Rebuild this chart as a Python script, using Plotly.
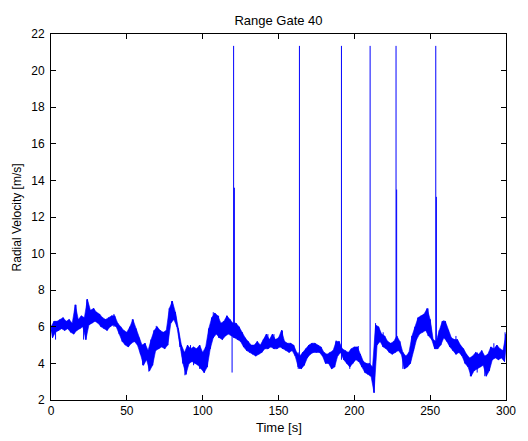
import plotly.graph_objects as go

# Radial velocity record for range gate 40, sampled on a 2 s grid.
# Each grid step holds the upper and lower edge of the noisy trace.
TIME_S = list(range(0, 301, 2))

VEL_HIGH = [
    6.0, 6.3, 6.3, 6.4, 6.5, 6.3, 6.4, 6.2, 7.2, 6.4,   # 0-18
    6.6, 6.5, 7.5, 6.9, 7.0, 6.8, 6.7, 6.5, 6.4, 6.5,   # 20-38
    6.6, 6.6, 6.2, 6.0, 5.8, 5.7, 6.0, 6.4, 5.9, 5.4,   # 40-58
    5.0, 5.1, 4.7, 5.3, 5.8, 6.0, 5.8, 5.7, 5.8, 7.0,   # 60-78
    7.4, 6.8, 5.9, 5.0, 4.6, 5.0, 4.8, 4.9, 4.8, 5.0,   # 80-98
    4.6, 4.9, 5.9, 6.5, 6.75, 6.6, 6.2, 6.3, 6.6, 6.4,  # 100-118
    6.2, 6.2, 6.0, 5.7, 5.4, 5.2, 5.0, 5.0, 5.2, 5.0,   # 120-138
    5.3, 5.6, 5.3, 5.6, 5.3, 5.4, 5.8, 5.2, 5.1, 5.1,   # 140-158
    5.0, 4.6, 4.4, 4.6, 4.8, 5.0, 5.1, 5.1, 5.0, 4.9,   # 160-178
    4.6, 4.5, 4.6, 4.7, 5.2, 5.2, 4.8, 4.7, 4.6, 4.8,   # 180-198
    4.9, 4.9, 4.5, 4.1, 4.0, 4.0, 3.8, 6.1, 6.0, 5.6,   # 200-218
    5.5, 5.2, 5.1, 5.2, 5.5, 5.2, 4.6, 4.4, 4.6, 5.5,   # 220-238
    6.0, 6.5, 6.6, 6.7, 7.0, 6.4, 5.3, 5.2, 5.8, 6.3,   # 240-258
    6.3, 5.8, 5.4, 5.3, 5.3, 5.0, 4.8, 4.5, 4.3, 4.4,   # 260-278
    4.6, 4.5, 4.7, 4.4, 4.5, 4.9, 4.8, 5.0, 4.8, 4.7,   # 280-298
    5.6,                                                 # 300
]

VEL_LOW = [
    5.4, 5.7, 5.8, 5.9, 5.8, 5.9, 5.7, 5.6, 5.8, 5.9,   # 0-18
    6.0, 5.3, 6.1, 6.2, 6.3, 6.2, 6.0, 5.9, 5.8, 6.0,   # 20-38
    6.1, 6.0, 5.6, 5.2, 5.0, 4.9, 5.1, 5.2, 5.0, 4.5,   # 40-58
    3.9, 4.2, 3.6, 3.9, 4.7, 4.8, 4.9, 4.8, 5.0, 6.2,   # 60-78
    6.4, 6.0, 4.9, 4.0, 3.4, 4.0, 4.1, 4.0, 3.9, 3.7,   # 80-98
    3.5, 3.8, 4.8, 5.4, 5.6, 5.4, 5.3, 5.5, 5.6, 5.5,   # 100-118
    5.4, 5.3, 5.2, 4.9, 4.7, 4.6, 4.5, 4.4, 4.5, 4.6,   # 120-138
    4.8, 4.8, 4.9, 4.8, 4.8, 4.9, 4.8, 4.7, 4.6, 4.7,   # 140-158
    4.4, 3.8, 3.7, 3.9, 4.3, 4.5, 4.6, 4.6, 4.6, 4.4,   # 160-178
    4.0, 4.0, 3.7, 3.8, 4.4, 4.6, 4.2, 4.0, 3.8, 4.0,   # 180-198
    4.2, 4.1, 3.8, 3.5, 3.4, 3.3, 2.4, 5.0, 5.2, 4.9,   # 200-218
    4.8, 4.6, 4.5, 4.6, 4.7, 4.5, 3.7, 3.8, 4.0, 4.7,   # 220-238
    5.3, 5.6, 5.7, 5.8, 5.5, 5.3, 4.8, 4.8, 5.0, 5.4,   # 240-258
    5.2, 4.9, 4.7, 4.5, 4.6, 4.4, 4.0, 3.8, 3.3, 3.6,   # 260-278
    3.7, 3.8, 3.9, 3.3, 3.6, 4.2, 4.3, 4.2, 4.3, 4.1,   # 280-298
    5.0,                                                 # 300
]

# Large outliers (time in s, velocity in m/s)
SPIKE_T = [119.4, 120.4, 120.9, 163.8, 191.5, 210.4, 227.5, 227.9, 253.7, 254.1]
SPIKE_V = [3.5, 21.35, 13.6, 21.35, 21.35, 21.35, 21.35, 13.5, 21.35, 13.1]

# Short single-sample excursions just outside the noise band
HAIR_T = [3, 16.5, 21.5, 23.6, 28.4, 41.5, 53.6, 60.4, 64.5, 69.4,
          79.5, 88.3, 92, 94, 98, 101, 107, 110.5, 116, 143,
          147, 152.6, 163, 185, 188, 197, 202.6, 214, 219, 232,
          248.6, 259, 267, 276.5, 281, 286, 292, 299.4]
HAIR_V = [5.3, 7.2, 5.3, 7.5, 7.0, 6.7, 6.4, 3.9, 3.55, 6.05,
          7.4, 3.35, 5.0, 3.9, 3.7, 3.5, 6.8, 6.6, 6.6, 5.6,
          5.6, 5.8, 3.7, 3.7, 5.25, 3.7, 4.95, 6.2, 5.7, 3.7,
          7.0, 6.35, 5.5, 3.3, 3.5, 3.3, 5.1, 5.7]

X_TICKS = [0, 50, 100, 150, 200, 250, 300]
Y_TICKS = [2, 4, 6, 8, 10, 12, 14, 16, 18, 20, 22]

BLUE = "#0000ff"
FONT = "Liberation Sans, Arial, Helvetica, sans-serif"

# Lower edge is sampled half a step after the upper edge.
low_t = [t + 1 if t < TIME_S[-1] else t for t in TIME_S]

# Zig-zag between the two edges.
zx, zy = [], []
for t, tl, hi, lo in zip(TIME_S, low_t, VEL_HIGH, VEL_LOW):
    zx.append(t)
    zy.append(hi)
    if tl != t:
        zx.append(tl)
        zy.append(lo)


def strokes(times, values):
    """Vertical strokes leaving the band from its nearest edge."""
    xs, ys = [], []
    for t, v in zip(times, values):
        i = min(range(len(TIME_S)), key=lambda k: abs(TIME_S[k] - t))
        mid = (VEL_LOW[i] + VEL_HIGH[i]) / 2
        base = VEL_LOW[i] if v > mid else VEL_HIGH[i]
        xs += [t, t, None]
        ys += [base, v, None]
    return xs, ys


fig = go.Figure()

# Dense noise band between the two edges
fig.add_trace(
    go.Scatter(
        x=TIME_S + low_t[::-1],
        y=VEL_HIGH + VEL_LOW[::-1],
        mode="lines", fill="toself", fillcolor=BLUE,
        line=dict(color=BLUE, width=0.6),
        hoverinfo="skip",
    )
)

fig.add_trace(
    go.Scatter(x=zx, y=zy, mode="lines",
               line=dict(color=BLUE, width=1), hoverinfo="skip")
)

hx, hy = strokes(HAIR_T, HAIR_V)
fig.add_trace(
    go.Scatter(x=hx, y=hy, mode="lines",
               line=dict(color=BLUE, width=1), hoverinfo="skip")
)

sx, sy = strokes(SPIKE_T, SPIKE_V)
fig.add_trace(
    go.Scatter(x=sx, y=sy, mode="lines",
               line=dict(color=BLUE, width=1), hoverinfo="skip")
)

axis_common = dict(
    showgrid=False, zeroline=False,
    showline=True, linecolor="#000000", linewidth=1,
    mirror="ticks", ticks="inside", ticklen=5, tickwidth=1, tickcolor="#000000",
    tickfont=dict(family=FONT, size=12, color="#000000"),
)

fig.update_layout(
    width=528, height=441,
    margin=dict(l=51, r=16, t=34, b=41),
    paper_bgcolor="#ffffff", plot_bgcolor="#ffffff",
    showlegend=False,
    xaxis=dict(range=[0, 300], tickvals=X_TICKS, **axis_common),
    yaxis=dict(range=[2, 22], tickvals=Y_TICKS, ticklabelstandoff=3, **axis_common),
    title=dict(
        text="Range Gate 40",
        x=0.5, xref="paper", xanchor="center",
        y=1 - 20 / 441, yref="container", yanchor="middle",
        font=dict(family=FONT, size=13, color="#000000"),
    ),
    annotations=[
        dict(text="Time [s]", xref="paper", yref="paper",
             x=0.5, y=-27 / 366, xanchor="center", yanchor="middle",
             showarrow=False, font=dict(family=FONT, size=13, color="#000000")),
        dict(text="Radial Velocity [m/s]", xref="paper", yref="paper",
             x=-34 / 461, y=0.5, xanchor="center", yanchor="middle", textangle=-90,
             showarrow=False, font=dict(family=FONT, size=12, color="#000000")),
    ],
)

fig.write_html("out.html")
